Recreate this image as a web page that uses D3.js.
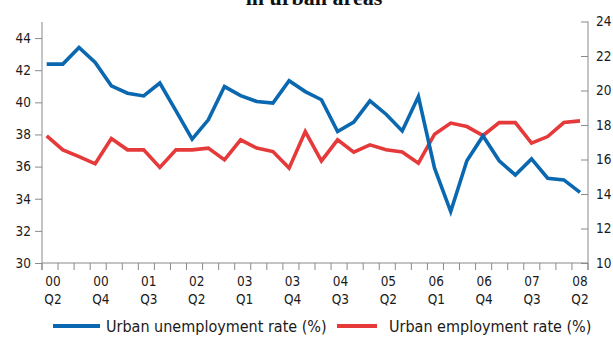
<!DOCTYPE html>
<html><head><meta charset="utf-8">
<script src="https://cdn.jsdelivr.net/npm/d3@7/dist/d3.min.js"></script>
<style>
body{margin:0;background:#fff;}
svg{display:block;}
.tk{font-family:"Liberation Sans Narrow","DejaVu Sans Condensed","Roboto Condensed","Arial Narrow",sans-serif;}
</style></head>
<body><svg id="c" width="613" height="343"></svg>
<script>
const titleText = "in urban areas";
const periods = ["00 Q2","","","00 Q4","","","01 Q3","","","02 Q2","","","03 Q1","","","03 Q4","","","04 Q3","","","05 Q2","","","06 Q1","","","06 Q4","","","07 Q3","","","08 Q2"];
const unemployment = [42.38,42.38,43.41,42.48,41.03,40.57,40.40,41.20,39.47,37.71,38.91,40.98,40.42,40.05,39.95,41.34,40.67,40.16,38.18,38.77,40.09,39.26,38.22,40.36,35.90,33.20,36.36,37.91,36.36,35.48,36.48,35.28,35.17,34.40];
const employment = [17.37,16.56,16.17,15.75,17.21,16.56,16.56,15.54,16.56,16.56,16.66,15.98,17.14,16.66,16.46,15.50,17.62,15.92,17.14,16.43,16.85,16.56,16.43,15.79,17.47,18.11,17.91,17.39,18.14,18.14,16.95,17.33,18.14,18.24];
const leftTicks = [30,32,34,36,38,40,42,44];
const rightTicks = [10,12,14,16,18,20,22,24];
const seriesNames = ["Urban unemployment rate (%)","Urban employment rate (%)"];
const colors = ["#0a68b0","#e5393a"];

const svg = d3.select("#c");
const L=42, R=588, T=22, B=263;
const idx = d3.range(periods.length);
const xBand = d3.scaleBand().domain(idx).range([L,R]).padding(0);
const xPt = d3.scalePoint().domain(idx).range([46.7,580]);
const xLab = d3.scalePoint().domain(idx).range([53,580]);
const yL = d3.scaleLinear().domain([30,45]).range([B,T]);
const yR = d3.scaleLinear().domain([10,24]).range([B,21.5]);
const axCol = "#8a8a8a";

// title (partially cut, as in the reference)
svg.append("text").attr("x",314).attr("y",4.5).attr("text-anchor","middle")
  .attr("font-family","Liberation Serif, Times New Roman, serif").attr("font-weight","bold")
  .attr("font-size",22).attr("fill","#111").text(titleText);

// left axis
const gl = svg.append("g").attr("transform",`translate(${L},0)`)
  .call(d3.axisLeft(yL).tickValues(leftTicks).tickSize(7).tickPadding(4).tickSizeOuter(0));
// right axis (ticks inside)
const gr = svg.append("g").attr("transform",`translate(${R},0)`)
  .call(d3.axisLeft(yR).tickValues(rightTicks).tickSize(7).tickSizeOuter(0));
gr.selectAll(".tick text").attr("x",8).attr("text-anchor","start");
// bottom axis with ticks at band edges
const edges = d3.range(periods.length+1).map(i=> i<periods.length ? xBand(i) : R);
const gb = svg.append("g");
gb.append("line").attr("x1",L).attr("x2",R).attr("y1",B).attr("y2",B).attr("stroke",axCol);
gb.selectAll("line.e").data(edges).join("line").attr("class","e")
  .attr("x1",d=>d).attr("x2",d=>d).attr("y1",B).attr("y2",B+7).attr("stroke",axCol);
const labs = gb.selectAll("text").data(idx.filter(i=>periods[i])).join("text")
  .attr("class","tk").attr("text-anchor","middle").attr("font-size",13.5).attr("fill","#1a1a1a")
  .attr("transform",i=>`translate(${xLab(i)},0)`);
labs.append("tspan").attr("x",0).attr("y",286).text(i=>periods[i].split(" ")[0]);
labs.append("tspan").attr("x",0).attr("y",304).text(i=>periods[i].split(" ")[1]);

[gl,gr].forEach(g=>{
  g.select(".domain").attr("stroke",axCol);
  g.selectAll(".tick line").attr("stroke",axCol);
  g.selectAll(".tick text").attr("class","tk").attr("font-size",13.5).attr("fill","#1a1a1a");
});
gl.select(".domain").attr("d",`M0,${T}V${B+7}`);
gr.select(".domain").attr("d",`M0,21.5V${B+7}`);

// lines
const lineU = d3.line().x((d,i)=>xPt(i)).y(d=>yL(d));
const lineE = d3.line().x((d,i)=>xPt(i)).y(d=>yR(d));
svg.append("path").datum(employment).attr("d",lineE).attr("fill","none")
  .attr("stroke",colors[1]).attr("stroke-width",3.6).attr("stroke-linejoin","miter");
svg.append("path").datum(unemployment).attr("d",lineU).attr("fill","none")
  .attr("stroke",colors[0]).attr("stroke-width",3.6).attr("stroke-linejoin","miter");

// legend
const leg = [{x1:53,x2:100,tx:106},{x1:337,x2:377,tx:389}];
leg.forEach((l,k)=>{
  svg.append("line").attr("x1",l.x1).attr("x2",l.x2).attr("y1",326).attr("y2",326)
    .attr("stroke",colors[k]).attr("stroke-width",4);
  svg.append("text").attr("class","tk").attr("x",l.tx).attr("y",332).attr("font-size",16)
    .attr("fill","#1a1a1a").text(seriesNames[k]);
});
</script></body></html>
